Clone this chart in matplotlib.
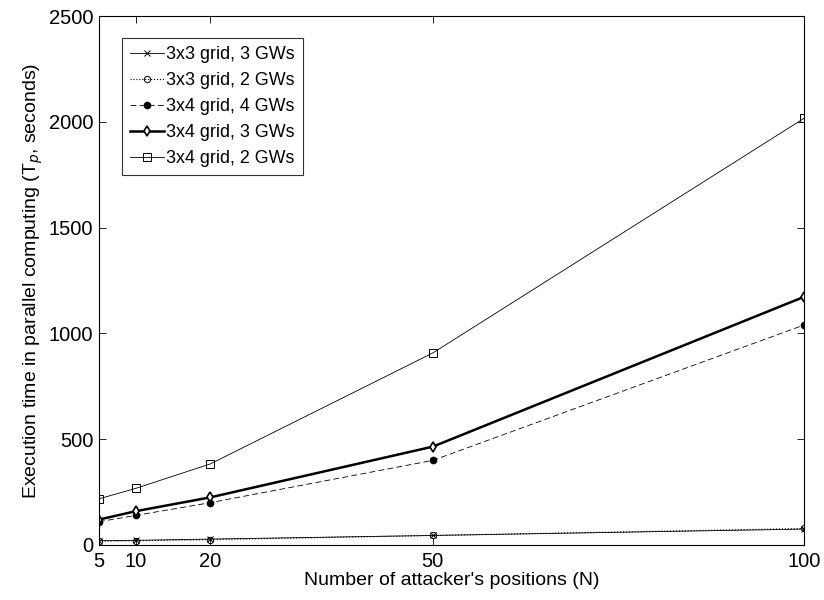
import matplotlib
matplotlib.use("Agg")
import matplotlib.pyplot as plt

plt.rcParams['font.family'] = ['Liberation Sans', 'DejaVu Sans']

positions = [5, 10, 20, 50, 100]
g33_3gw = [20, 22, 28, 45, 75]
g33_2gw = [18, 20, 25, 45, 78]
g34_4gw = [110, 140, 200, 400, 1040]
g34_3gw = [120, 160, 225, 465, 1173]
g34_2gw = [218, 268, 383, 908, 2017]

x_ticks = [5, 10, 20, 50, 100]
y_ticks = [0, 500, 1000, 1500, 2000, 2500]

fig = plt.figure(figsize=(8.24, 6.0), dpi=100)
ax = fig.add_axes([0.120, 0.0917, 0.8557, 0.8813])

ax.plot(positions, g33_3gw, color='black', lw=0.6, marker='x', ms=4.5, mew=0.7,
        label='3x3 grid, 3 GWs')
ax.plot(positions, g33_2gw, color='black', lw=0.8, ls=':', marker='o', ms=4.5,
        mfc='none', mew=0.7, label='3x3 grid, 2 GWs')
ax.plot(positions, g34_4gw, color='black', lw=0.6, ls=(0, (7, 4)), marker='o',
        ms=4.5, mfc='black', label='3x4 grid, 4 GWs')
ax.plot(positions, g34_3gw, color='black', lw=1.8, marker='d', ms=5.5,
        mfc='white', mew=1.2, label='3x4 grid, 3 GWs')
ax.plot(positions, g34_2gw, color='black', lw=0.6, marker='s', ms=6,
        mfc='none', mew=0.7, label='3x4 grid, 2 GWs')

ax.set_xlim(5, 100)
ax.set_ylim(0, 2500)
ax.set_xticks(x_ticks)
ax.set_yticks(y_ticks)
ax.tick_params(direction='in', top=True, right=True, labelsize=14.5, length=5,
               width=0.6)
ax.tick_params(axis='x', pad=5)
ax.tick_params(axis='y', pad=4)
for s in ax.spines.values():
    s.set_linewidth(0.8)

ax.set_xlabel("Number of attacker's positions (N)", fontsize=14, labelpad=1)
ax.set_ylabel("Execution time in parallel computing (T$_p$, seconds)",
              fontsize=14, labelpad=3)

leg = ax.legend(loc='upper left', bbox_to_anchor=(0.033, 0.958), fontsize=12.9,
                frameon=True, fancybox=False, edgecolor='black',
                handlelength=1.9, handletextpad=0.1, borderpad=0.45,
                labelspacing=0.5, borderaxespad=0)
leg.get_frame().set_linewidth(0.8)

fig.savefig('out.png', dpi=100)
